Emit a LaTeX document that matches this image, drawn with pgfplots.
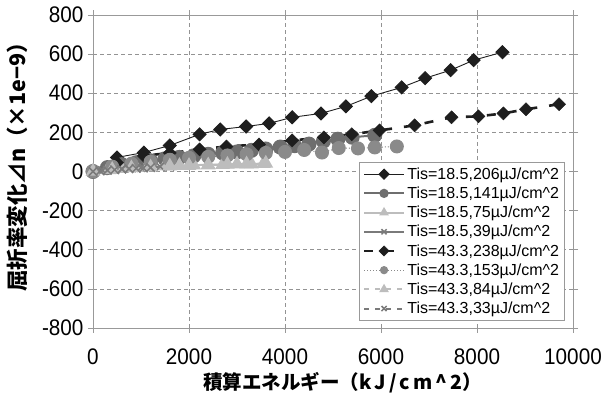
\documentclass[border=0pt]{standalone}
\usepackage{fontspec}
\setmainfont{Liberation Sans}
\newfontfamily\tickfont[FakeStretch=0.92]{Liberation Sans}
\newfontfamily\jp{Noto Sans CJK JP}
\usepackage{pgfplots}
\pgfplotsset{compat=1.18}
\definecolor{dk}{HTML}{1E1E1E}
\definecolor{g2}{HTML}{6E6E6E}
\definecolor{g6}{HTML}{8A8A8A}
\definecolor{g3}{HTML}{BDBDBD}
\definecolor{g4}{HTML}{7A7A7A}
\begin{document}
\begin{tikzpicture}
\begin{axis}[
  width=480pt, height=313pt, scale only axis,
  xmin=0, xmax=10000, ymin=-800, ymax=800,
  xtick distance=2000, ytick distance=200,
  scaled x ticks=false,
  /pgf/number format/assume math mode=true,
  tick label style={font=\tickfont\fontsize{22.5}{22.5}\selectfont},
  x tick label style={/pgf/number format/1000 sep={}, yshift=-12pt},
  y tick label style={xshift=-1pt},
  grid=major,
  grid style={dashed, gray!85, dash pattern=on 4pt off 3pt, line width=0.6pt},
  axis line style={gray!80, line width=0.8pt},
  tick align=outside, major tick length=5pt,
  tick style={gray!80, line width=0.6pt},
  xlabel={\jp\bfseries 積算エネルギー（k\kern3pt J\kern3pt /\kern3pt c\kern3pt m\kern3pt \^{}\kern3pt 2）},
  ylabel={\jp\bfseries 屈折率変化⊿n（×1e−9）},
  xlabel style={font=\fontsize{19.5}{19.5}\selectfont, at={(axis description cs:0.52,-0.176)}, anchor=center},
  ylabel style={font=\fontsize{21.5}{21.5}\selectfont, at={(axis description cs:-0.158,0.530)}, anchor=center},
  legend style={at={(1,0)}, anchor=south east, xshift=-8pt, yshift=7pt,
    font=\fontsize{16}{17}\selectfont, draw=gray!80, line width=0.8pt,
    row sep=2.1pt, inner sep=3.5pt, cells={anchor=west}},
  legend image code/.code={\draw[mark repeat=2,mark phase=2, mark size=3.6pt] plot coordinates {(0pt,0pt) (20pt,0pt) (40pt,0pt)};},
]
% S1: Tis=18.5, 206
\addplot[dk, line width=0.9pt, mark=square*, mark size=4.6pt, mark options={solid, fill=dk, draw=dk, rotate=45}] coordinates {
(0,0) (500,72) (1060,97) (1600,133) (2220,190) (2650,215) (3190,230) (3670,246) (4150,277) (4750,297) (5270,333) (5800,385) (6430,430) (6920,477) (7450,518) (7930,569) (8530,610)};
\addlegendentry{Tis=18.5,206µJ/cm\^{}2}
% S2: Tis=18.5, 141
\addplot[g2, line width=2pt, mark=*, mark size=6.5pt, mark options={solid, fill=g2, draw=g2}] coordinates {
(0,0) (300,20) (600,35) (900,45) (1200,55) (1500,65) (1800,72) (2100,80) (2400,88) (2700,95) (3000,100) (3300,108) (3600,115) (3900,125) (4200,132) (4500,140) (4800,155) (5100,165) (5400,175) (5870,185)};
\addlegendentry{Tis=18.5,141µJ/cm\^{}2}
% S3: Tis=18.5, 75
\addplot[g3, line width=2pt, mark=triangle*, mark size=6.5pt, mark options={solid, fill=g3, draw=g3}] coordinates {
(0,0) (300,8) (600,15) (900,20) (1200,25) (1500,28) (1800,30) (2100,32) (2400,35) (2700,35) (3000,38) (3300,38) (3550,40)};
\addlegendentry{Tis=18.5,75µJ/cm\^{}2}
% S4: Tis=18.5, 39
\addplot[g4, line width=2pt, mark=x, mark size=6pt, mark options={solid, draw=g4, line width=1.5pt}] coordinates {
(0,0) (200,5) (400,10) (600,14) (800,18) (1000,20) (1200,22) (1400,25) (1600,27)};
\addlegendentry{Tis=18.5,39µJ/cm\^{}2}
% S5: Tis=43.3, 238
\addplot[dk, line width=2.6pt, dash pattern=on 9pt off 12pt, mark=square*, mark size=4.6pt, mark options={solid, fill=dk, draw=dk, line width=0.5pt, rotate=45}] coordinates {
(0,0) (500,45) (1060,80) (1600,95) (2220,113) (2780,128) (3460,138) (4150,159) (4810,174) (5390,190) (5970,210) (6700,236) (7470,277) (8030,282) (8550,297) (9020,318) (9710,344)};
\addlegendentry{Tis=43.3,238µJ/cm\^{}2}
% S6: Tis=43.3, 153
\addplot[g6, line width=1pt, dotted, mark=*, mark size=6.5pt, mark options={solid, fill=g6, draw=g6}] coordinates {
(0,0) (400,25) (800,40) (1200,50) (1600,60) (2000,70) (2400,75) (2800,82) (3200,88) (3600,95) (4000,100) (4400,110) (4770,97) (5120,120) (5520,118) (5870,123) (6330,128)};
\addlegendentry{Tis=43.3,153µJ/cm\^{}2}
% S7: Tis=43.3, 84
\addplot[g3, line width=2pt, dash pattern=on 5pt off 6pt, mark=triangle*, mark size=6.5pt, mark options={solid, fill=g3, draw=g3}] coordinates {
(0,0) (400,10) (800,18) (1200,22) (1600,27) (2000,30) (2400,33) (2800,36) (3200,38) (3600,42)};
\addlegendentry{Tis=43.3,84µJ/cm\^{}2}
% S8: Tis=43.3, 33
\addplot[g4, line width=2pt, dash pattern=on 5pt off 6pt, mark=x, mark size=6pt, mark options={solid, draw=g4, line width=1.5pt}] coordinates {
(0,0) (150,3) (300,6) (450,9) (600,12) (750,14) (900,16) (1050,18) (1200,20)};
\addlegendentry{Tis=43.3,33µJ/cm\^{}2}
\coordinate (sw) at (rel axis cs:0,0);
\coordinate (ne) at (rel axis cs:1,1);
\end{axis}
\pgfresetboundingbox
\path[use as bounding box] ([shift={(-93pt,-69pt)}]sw) rectangle ([shift={(28pt,15pt)}]ne);
\end{tikzpicture}
\end{document}
